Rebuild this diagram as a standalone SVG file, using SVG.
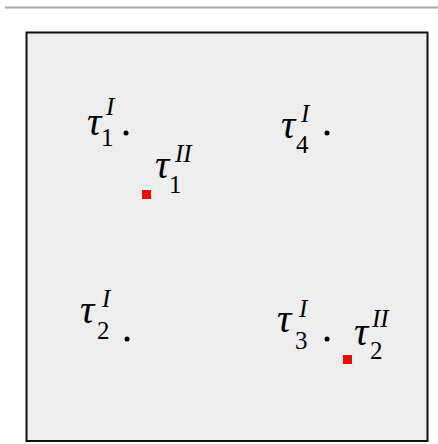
<svg xmlns="http://www.w3.org/2000/svg" width="438" height="444" viewBox="0 0 438 444">
<style>
.t{font-family:"Liberation Serif",serif;fill:#000;}
.m{font-size:40px;font-style:italic;}
.d{font-size:25px;}
.s{font-size:25px;font-style:italic;}
.dot{fill:#000;}
.sq{fill:#ff0000;}
</style>
<rect width="438" height="444" fill="#fff"/>
<line x1="5" y1="7.5" x2="438" y2="7.5" stroke="#aaa" stroke-width="2"/>
<rect x="26.5" y="32.5" width="401" height="408.5" fill="#eeeeee" stroke="#111" stroke-width="2"/>
<g id="tau1I">
<text class="t m" x="87" y="135">τ</text><text class="t d" x="101" y="146">1</text><text class="t s" x="106" y="115">I</text>
<circle class="dot" cx="126" cy="133" r="2.5"/>
</g>
<g id="tau4I">
<text class="t m" x="281" y="138">τ</text><text class="t d" x="296" y="153">4</text><text class="t s" x="301" y="122">I</text>
<circle class="dot" cx="327" cy="133" r="2.5"/>
</g>
<g id="tau1II">
<text class="t m" x="155" y="178">τ</text><text class="t d" x="169" y="193">1</text><text class="t s" x="175" y="162">II</text>
<rect class="sq" x="142" y="190" width="9" height="9"/>
</g>
<g id="tau2I">
<text class="t m" x="80" y="323">τ</text><text class="t d" x="97" y="339">2</text><text class="t s" x="102" y="307">I</text>
<circle class="dot" cx="127" cy="339" r="2.5"/>
</g>
<g id="tau3I">
<text class="t m" x="277" y="332">τ</text><text class="t d" x="295" y="349">3</text><text class="t s" x="299" y="317">I</text>
<circle class="dot" cx="327" cy="339" r="2.5"/>
</g>
<g id="tau2II">
<text class="t m" x="354" y="345">τ</text><text class="t d" x="370" y="359">2</text><text class="t s" x="372" y="327">II</text>
<rect class="sq" x="343" y="355" width="9" height="9"/>
</g>
</svg>
